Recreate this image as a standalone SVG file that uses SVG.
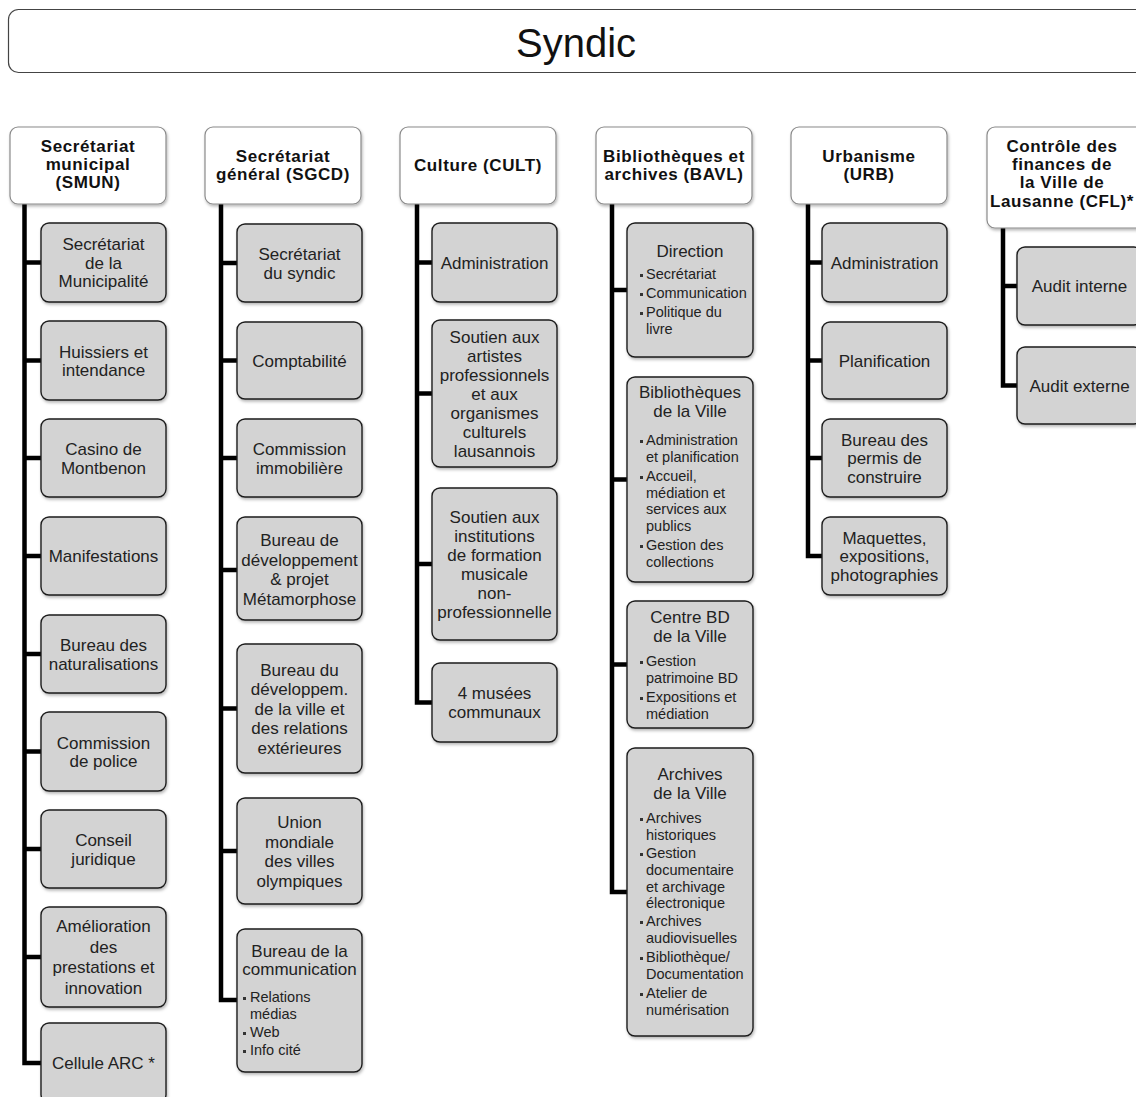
<svg xmlns="http://www.w3.org/2000/svg" width="1136" height="1097" viewBox="0 0 1136 1097">
<defs>
<filter id="sh" x="-10%" y="-10%" width="130%" height="130%">
<feDropShadow dx="1" dy="2" stdDeviation="1.6" flood-color="#000" flood-opacity="0.28"/>
</filter>
<style>
.top{fill:#fff;stroke:#444;stroke-width:1.2}
.hdr rect{fill:#fff;stroke:#8a8a8a;stroke-width:1.2;filter:url(#sh)}
.box rect.b{fill:#d3d3d3;stroke:#1e1e1e;stroke-width:1.4;filter:url(#sh)}
.ht{font-family:"Liberation Sans",Arial,sans-serif;font-weight:bold;font-size:17px;letter-spacing:0.6px;fill:#111;text-anchor:middle}
.bt{font-family:"Liberation Sans",Arial,sans-serif;font-size:17px;fill:#222;text-anchor:middle}
.bl{font-family:"Liberation Sans",Arial,sans-serif;font-size:14.5px;fill:#222}
.sq{fill:#333}
.conn path{fill:none;stroke:#000;stroke-width:4.5;stroke-linejoin:miter}
.title{font-family:"Liberation Sans",Arial,sans-serif;font-size:40px;fill:#111;text-anchor:middle}
</style>
</defs>
<rect width="1136" height="1097" fill="#fff"/>

<g id="syndic">
<rect class="top" x="8.5" y="9.5" width="1160" height="63" rx="10"/>
<text class="title" x="576" y="57">Syndic</text>
</g>

<g id="connectors" class="conn">
<path d="M24.5 204 V1063 H41 M24.5 262.5 H41 M24.5 360.5 H41 M24.5 458 H41 M24.5 556 H41 M24.5 654 H41 M24.5 751.5 H41 M24.5 849 H41 M24.5 957 H41"/>
<path d="M221 204 V1000 H237 M221 263 H237 M221 360.5 H237 M221 458 H237 M221 570 H237 M221 708.5 H237 M221 851 H237"/>
<path d="M417 204 V702.5 H432 M417 262.5 H432 M417 393.5 H432 M417 564 H432"/>
<path d="M612 204 V892 H627 M612 290 H627 M612 479.5 H627 M612 664.5 H627"/>
<path d="M808 204 V556 H822 M808 262.5 H822 M808 360.5 H822 M808 458 H822"/>
<path d="M1003 228 V385.5 H1017 M1003 286 H1017"/>
</g>

<!-- Headers -->
<g id="h-smun" class="hdr"><rect x="10" y="127" width="156" height="77" rx="8"/>
<text class="ht" x="88" y="152">Secrétariat</text><text class="ht" x="88" y="170">municipal</text><text class="ht" x="88" y="188">(SMUN)</text></g>
<g id="h-sgcd" class="hdr"><rect x="205" y="127" width="156" height="77" rx="8"/>
<text class="ht" x="283" y="162">Secrétariat</text><text class="ht" x="283" y="180">général (SGCD)</text></g>
<g id="h-cult" class="hdr"><rect x="400" y="127" width="156" height="77" rx="8"/>
<text class="ht" x="478" y="171">Culture (CULT)</text></g>
<g id="h-bavl" class="hdr"><rect x="596" y="127" width="156" height="77" rx="8"/>
<text class="ht" x="674" y="162">Bibliothèques et</text><text class="ht" x="674" y="180">archives (BAVL)</text></g>
<g id="h-urb" class="hdr"><rect x="791" y="127" width="156" height="77" rx="8"/>
<text class="ht" x="869" y="162">Urbanisme</text><text class="ht" x="869" y="180">(URB)</text></g>
<g id="h-cfl" class="hdr"><rect x="987" y="127" width="160" height="101" rx="8"/>
<text class="ht" x="1062" y="152">Contrôle des</text><text class="ht" x="1062" y="170">finances de</text><text class="ht" x="1062" y="188">la Ville de</text><text class="ht" x="1062" y="207">Lausanne (CFL)*</text></g>

<!-- Column 1 -->
<g id="c1-1" class="box"><rect class="b" x="41" y="223" width="125" height="79" rx="8"/>
<text class="bt" x="103.5" y="250">Secrétariat</text><text class="bt" x="103.5" y="268.5">de la</text><text class="bt" x="103.5" y="287">Municipalité</text></g>
<g id="c1-2" class="box"><rect class="b" x="41" y="321" width="125" height="79" rx="8"/>
<text class="bt" x="103.5" y="357.5">Huissiers et</text><text class="bt" x="103.5" y="376">intendance</text></g>
<g id="c1-3" class="box"><rect class="b" x="41" y="419" width="125" height="78" rx="8"/>
<text class="bt" x="103.5" y="455">Casino de</text><text class="bt" x="103.5" y="473.5">Montbenon</text></g>
<g id="c1-4" class="box"><rect class="b" x="41" y="517" width="125" height="78" rx="8"/>
<text class="bt" x="103.5" y="562">Manifestations</text></g>
<g id="c1-5" class="box"><rect class="b" x="41" y="615" width="125" height="78" rx="8"/>
<text class="bt" x="103.5" y="651">Bureau des</text><text class="bt" x="103.5" y="669.5">naturalisations</text></g>
<g id="c1-6" class="box"><rect class="b" x="41" y="712" width="125" height="79" rx="8"/>
<text class="bt" x="103.5" y="748.5">Commission</text><text class="bt" x="103.5" y="767">de police</text></g>
<g id="c1-7" class="box"><rect class="b" x="41" y="810" width="125" height="78" rx="8"/>
<text class="bt" x="103.5" y="846">Conseil</text><text class="bt" x="103.5" y="864.5">juridique</text></g>
<g id="c1-8" class="box"><rect class="b" x="41" y="907" width="125" height="100" rx="8"/>
<text class="bt" x="103.5" y="932">Amélioration</text><text class="bt" x="103.5" y="952.5">des</text><text class="bt" x="103.5" y="973">prestations et</text><text class="bt" x="103.5" y="993.5">innovation</text></g>
<g id="c1-9" class="box"><rect class="b" x="41" y="1023" width="125" height="80" rx="8"/>
<text class="bt" x="103.5" y="1069">Cellule ARC *</text></g>

<!-- Column 2 -->
<g id="c2-1" class="box"><rect class="b" x="237" y="224" width="125" height="78" rx="8"/>
<text class="bt" x="299.5" y="260">Secrétariat</text><text class="bt" x="299.5" y="278.5">du syndic</text></g>
<g id="c2-2" class="box"><rect class="b" x="237" y="322" width="125" height="77" rx="8"/>
<text class="bt" x="299.5" y="366.5">Comptabilité</text></g>
<g id="c2-3" class="box"><rect class="b" x="237" y="419" width="125" height="78" rx="8"/>
<text class="bt" x="299.5" y="455">Commission</text><text class="bt" x="299.5" y="473.5">immobilière</text></g>
<g id="c2-4" class="box"><rect class="b" x="237" y="517" width="125" height="103" rx="8"/>
<text class="bt" x="299.5" y="546">Bureau de</text><text class="bt" x="299.5" y="565.5">développement</text><text class="bt" x="299.5" y="585">&amp; projet</text><text class="bt" x="299.5" y="604.5">Métamorphose</text></g>
<g id="c2-5" class="box"><rect class="b" x="237" y="644" width="125" height="129" rx="8"/>
<text class="bt" x="299.5" y="675.5">Bureau du</text><text class="bt" x="299.5" y="695">développem.</text><text class="bt" x="299.5" y="714.5">de la ville et</text><text class="bt" x="299.5" y="734">des relations</text><text class="bt" x="299.5" y="753.5">extérieures</text></g>
<g id="c2-6" class="box"><rect class="b" x="237" y="798" width="125" height="106" rx="8"/>
<text class="bt" x="299.5" y="828">Union</text><text class="bt" x="299.5" y="847.5">mondiale</text><text class="bt" x="299.5" y="867">des villes</text><text class="bt" x="299.5" y="886.5">olympiques</text></g>
<g id="c2-7" class="box"><rect class="b" x="237" y="929" width="125" height="143" rx="8"/>
<text class="bt" x="299.5" y="957">Bureau de la</text><text class="bt" x="299.5" y="975">communication</text>
<rect class="sq" x="243" y="997" width="3" height="3"/><text class="bl" x="250" y="1002">Relations</text><text class="bl" x="250" y="1018.5">médias</text>
<rect class="sq" x="243" y="1032" width="3" height="3"/><text class="bl" x="250" y="1037">Web</text>
<rect class="sq" x="243" y="1050" width="3" height="3"/><text class="bl" x="250" y="1055">Info cité</text></g>

<!-- Column 3 -->
<g id="c3-1" class="box"><rect class="b" x="432" y="223" width="125" height="79" rx="8"/>
<text class="bt" x="494.5" y="268.5">Administration</text></g>
<g id="c3-2" class="box"><rect class="b" x="432" y="320" width="125" height="147" rx="8"/>
<text class="bt" x="494.5" y="342.5">Soutien aux</text><text class="bt" x="494.5" y="361.5">artistes</text><text class="bt" x="494.5" y="380.5">professionnels</text><text class="bt" x="494.5" y="399.5">et aux</text><text class="bt" x="494.5" y="418.5">organismes</text><text class="bt" x="494.5" y="437.5">culturels</text><text class="bt" x="494.5" y="456.5">lausannois</text></g>
<g id="c3-3" class="box"><rect class="b" x="432" y="488" width="125" height="152" rx="8"/>
<text class="bt" x="494.5" y="522.5">Soutien aux</text><text class="bt" x="494.5" y="541.5">institutions</text><text class="bt" x="494.5" y="560.5">de formation</text><text class="bt" x="494.5" y="579.5">musicale</text><text class="bt" x="494.5" y="598.5">non-</text><text class="bt" x="494.5" y="617.5">professionnelle</text></g>
<g id="c3-4" class="box"><rect class="b" x="432" y="663" width="125" height="79" rx="8"/>
<text class="bt" x="494.5" y="699">4 musées</text><text class="bt" x="494.5" y="717.5">communaux</text></g>

<!-- Column 4 -->
<g id="c4-1" class="box"><rect class="b" x="627" y="223" width="126" height="134" rx="8"/>
<text class="bt" x="690" y="257">Direction</text>
<rect class="sq" x="640" y="274" width="3" height="3"/><text class="bl" x="646" y="279">Secrétariat</text>
<rect class="sq" x="640" y="293" width="3" height="3"/><text class="bl" x="646" y="298">Communication</text>
<rect class="sq" x="640" y="312" width="3" height="3"/><text class="bl" x="646" y="317">Politique du</text><text class="bl" x="646" y="334">livre</text></g>
<g id="c4-2" class="box"><rect class="b" x="627" y="377" width="126" height="205" rx="8"/>
<text class="bt" x="690" y="398">Bibliothèques</text><text class="bt" x="690" y="417">de la Ville</text>
<rect class="sq" x="640" y="440" width="3" height="3"/><text class="bl" x="646" y="445">Administration</text><text class="bl" x="646" y="462">et planification</text>
<rect class="sq" x="640" y="476" width="3" height="3"/><text class="bl" x="646" y="481">Accueil,</text><text class="bl" x="646" y="497.5">médiation et</text><text class="bl" x="646" y="514">services aux</text><text class="bl" x="646" y="530.5">publics</text>
<rect class="sq" x="640" y="545" width="3" height="3"/><text class="bl" x="646" y="550">Gestion des</text><text class="bl" x="646" y="567">collections</text></g>
<g id="c4-3" class="box"><rect class="b" x="627" y="601" width="126" height="127" rx="8"/>
<text class="bt" x="690" y="623">Centre BD</text><text class="bt" x="690" y="642">de la Ville</text>
<rect class="sq" x="640" y="661" width="3" height="3"/><text class="bl" x="646" y="666">Gestion</text><text class="bl" x="646" y="683">patrimoine BD</text>
<rect class="sq" x="640" y="697" width="3" height="3"/><text class="bl" x="646" y="702">Expositions et</text><text class="bl" x="646" y="719">médiation</text></g>
<g id="c4-4" class="box"><rect class="b" x="627" y="748" width="126" height="288" rx="8"/>
<text class="bt" x="690" y="780">Archives</text><text class="bt" x="690" y="799">de la Ville</text>
<rect class="sq" x="640" y="818" width="3" height="3"/><text class="bl" x="646" y="823">Archives</text><text class="bl" x="646" y="839.5">historiques</text>
<rect class="sq" x="640" y="853" width="3" height="3"/><text class="bl" x="646" y="858">Gestion</text><text class="bl" x="646" y="875">documentaire</text><text class="bl" x="646" y="891.5">et archivage</text><text class="bl" x="646" y="908">électronique</text>
<rect class="sq" x="640" y="921" width="3" height="3"/><text class="bl" x="646" y="926">Archives</text><text class="bl" x="646" y="943">audiovisuelles</text>
<rect class="sq" x="640" y="957" width="3" height="3"/><text class="bl" x="646" y="962">Bibliothèque/</text><text class="bl" x="646" y="979">Documentation</text>
<rect class="sq" x="640" y="993" width="3" height="3"/><text class="bl" x="646" y="998">Atelier de</text><text class="bl" x="646" y="1015">numérisation</text></g>

<!-- Column 5 -->
<g id="c5-1" class="box"><rect class="b" x="822" y="223" width="125" height="79" rx="8"/>
<text class="bt" x="884.5" y="268.5">Administration</text></g>
<g id="c5-2" class="box"><rect class="b" x="822" y="322" width="125" height="77" rx="8"/>
<text class="bt" x="884.5" y="366.5">Planification</text></g>
<g id="c5-3" class="box"><rect class="b" x="822" y="419" width="125" height="78" rx="8"/>
<text class="bt" x="884.5" y="445.5">Bureau des</text><text class="bt" x="884.5" y="464">permis de</text><text class="bt" x="884.5" y="482.5">construire</text></g>
<g id="c5-4" class="box"><rect class="b" x="822" y="517" width="125" height="78" rx="8"/>
<text class="bt" x="884.5" y="543.5">Maquettes,</text><text class="bt" x="884.5" y="562">expositions,</text><text class="bt" x="884.5" y="580.5">photographies</text></g>

<!-- Column 6 -->
<g id="c6-1" class="box"><rect class="b" x="1017" y="247" width="125" height="78" rx="8"/>
<text class="bt" x="1079.5" y="292">Audit interne</text></g>
<g id="c6-2" class="box"><rect class="b" x="1017" y="347" width="125" height="77" rx="8"/>
<text class="bt" x="1079.5" y="391.5">Audit externe</text></g>
</svg>
